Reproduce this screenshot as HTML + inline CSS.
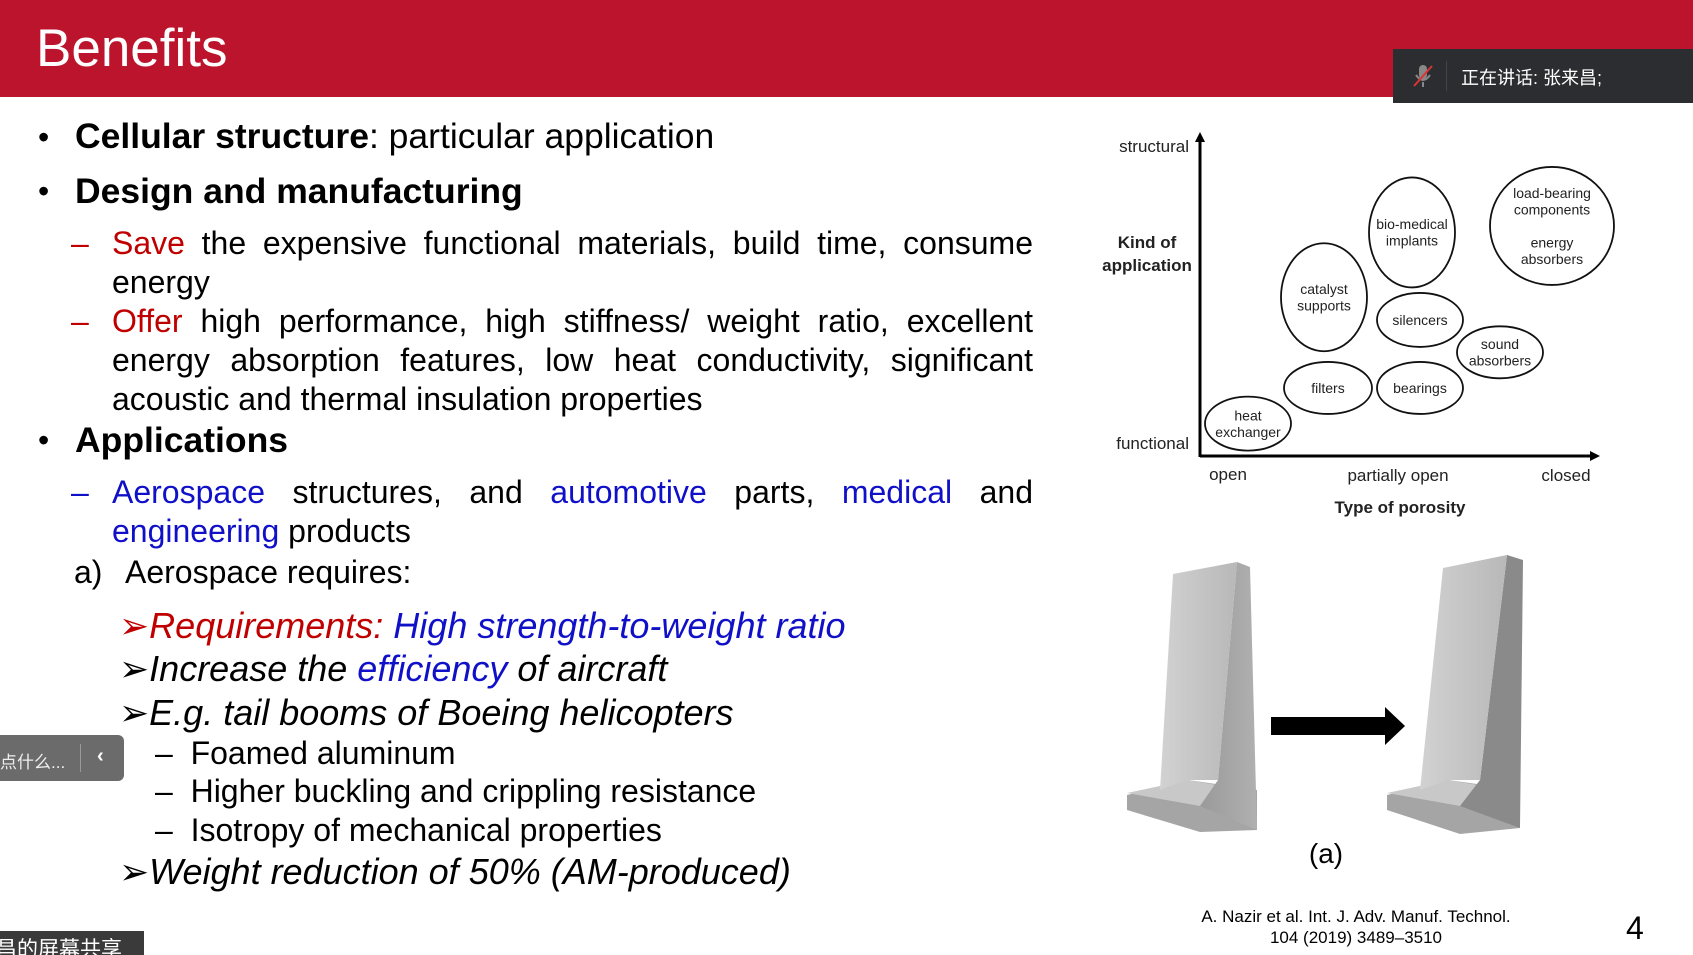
<!DOCTYPE html>
<html><head><meta charset="utf-8">
<style>
*{margin:0;padding:0;box-sizing:border-box}
body{width:1693px;height:955px;overflow:hidden;background:#fff;font-family:"Liberation Sans","Noto Sans CJK SC",sans-serif;position:relative;color:#000}
.abs{position:absolute;white-space:nowrap}
.t{font-size:32px;line-height:39px}
.red{color:#c00000}.blue{color:#1010c8}
.just{position:absolute;left:112px;width:921px;text-align:justify;text-align-last:justify;font-size:32px;line-height:39px}
.it{font-style:italic;font-size:36px}
</style></head><body>
<div style="position:absolute;left:0;top:0;width:1693px;height:97px;background:#bc142d"></div>
<div class="abs" style="left:36px;top:18px;font-size:53px;color:#fff">Benefits</div>
<div style="position:absolute;left:1393px;top:49px;width:300px;height:54px;background:#2b2d30">
 <svg style="position:absolute;left:18px;top:14px" width="24" height="26"><rect x="8" y="2" width="8" height="14" rx="4" fill="#888"/><path d="M5 12 Q12 22 19 12" stroke="#888" fill="none" stroke-width="2"/><line x1="12" y1="19" x2="12" y2="24" stroke="#888" stroke-width="2"/><line x1="3" y1="23" x2="21" y2="3" stroke="#d33" stroke-width="2"/></svg>
 <div style="position:absolute;left:53px;top:12px;width:1px;height:30px;background:#444"></div>
 <div class="abs" style="left:68px;top:15px;font-size:18px;color:#fff">正在讲话: 张来昌;</div>
</div>

<div class="abs t" style="left:38px;top:118px">•</div>
<div class="abs t" style="left:75px;top:117px;font-size:35.5px"><b>Cellular structure</b>: particular application</div>
<div class="abs t" style="left:38px;top:172px">•</div>
<div class="abs t" style="left:75px;top:172px;font-size:35.5px"><b>Design and manufacturing</b></div>
<div class="abs t red" style="left:71px;top:224px">–</div>
<div class="just" style="top:224px"><span class="red">Save</span> the expensive functional materials, build time, consume</div>
<div class="abs t" style="left:112px;top:263px">energy</div>
<div class="abs t red" style="left:71px;top:302px">–</div>
<div class="just" style="top:302px"><span class="red">Offer</span> high performance, high stiffness/ weight ratio, excellent</div>
<div class="just" style="top:341px">energy absorption features, low heat conductivity, significant</div>
<div class="abs t" style="left:112px;top:380px">acoustic and thermal insulation properties</div>
<div class="abs t" style="left:38px;top:421px">•</div>
<div class="abs t" style="left:75px;top:421px;font-size:35.5px"><b>Applications</b></div>
<div class="abs t blue" style="left:71px;top:473px">–</div>
<div class="just" style="top:473px"><span class="blue">Aerospace</span> structures, and <span class="blue">automotive</span> parts, <span class="blue">medical</span> and</div>
<div class="abs t" style="left:112px;top:512px"><span class="blue">engineering</span> products</div>
<div class="abs t" style="left:74px;top:553px">a)</div>
<div class="abs t" style="left:125px;top:553px">Aerospace requires:</div>
<div class="abs t it" style="left:119px;top:606px"><span class="red" style="font-style:normal">➢</span><span class="red">Requirements:</span> <span class="blue">High strength-to-weight ratio</span></div>
<div class="abs t it" style="left:119px;top:649px"><span style="font-style:normal">➢</span>Increase the <span class="blue">efficiency</span> of aircraft</div>
<div class="abs t it" style="left:119px;top:693px"><span style="font-style:normal">➢</span>E.g. tail booms of Boeing helicopters</div>
<div class="abs t" style="left:155px;top:734px">–&nbsp; Foamed aluminum</div>
<div class="abs t" style="left:155px;top:772px">–&nbsp; Higher buckling and crippling resistance</div>
<div class="abs t" style="left:155px;top:811px">–&nbsp; Isotropy of mechanical properties</div>
<div class="abs t it" style="left:119px;top:852px"><span style="font-style:normal">➢</span>Weight reduction of 50% (AM-produced)</div>

<div style="position:absolute;left:0;top:735px;width:124px;height:46px;background:#6b6b6b;border-radius:0 6px 6px 0">
 <div class="abs" style="left:0;top:13px;font-size:17px;color:#eee">点什么...</div>
 <div style="position:absolute;left:80px;top:9px;width:1px;height:28px;background:#999"></div>
 <div class="abs" style="left:97px;top:10px;font-size:20px;color:#fff;font-weight:bold">‹</div>
</div>
<div style="position:absolute;left:0;top:931px;width:144px;height:24px;background:#3a3a3a;overflow:hidden">
 <div class="abs" style="left:-4px;top:2px;font-size:21px;color:#fff">昌的屏幕共享</div>
</div>

<svg id="chart" style="position:absolute;left:0;top:0" width="1693" height="955"></svg>

<svg style="position:absolute;left:0;top:0" width="1693" height="955">
 <defs><linearGradient id="g1" x1="0" x2="1"><stop offset="0" stop-color="#d2d2d2"/><stop offset="1" stop-color="#b8b8b8"/></linearGradient>
 <linearGradient id="g2" x1="0" x2="1"><stop offset="0" stop-color="#9a9a9a"/><stop offset="1" stop-color="#b0b0b0"/></linearGradient></defs>
 <g>
  <polygon points="1127,795 1127,810 1200,832 1257,830 1257,790 1188,780" fill="#a5a5a5"/>
  <polygon points="1127,793 1188,780 1257,792 1200,806" fill="#c8c8c8"/>
  <polygon points="1237,562 1250,567 1257,830 1200,806 1218,780" fill="url(#g2)"/>
  <polygon points="1173,574 1237,562 1218,780 1188,780 1160,790" fill="url(#g1)"/>
 </g>
 <g><polygon points="1271,717 1385,717 1385,707 1405,726 1385,745 1385,735 1271,735" fill="#000"/></g>
 <g>
  <polygon points="1387,795 1387,810 1460,834 1520,828 1520,790 1448,780" fill="#a5a5a5"/>
  <polygon points="1387,793 1448,780 1520,792 1460,806" fill="#c8c8c8"/>
  <polygon points="1507,555 1523,560 1520,828 1460,806 1480,780" fill="#8a8a8a"/>
  <polygon points="1443,568 1507,555 1480,780 1448,780 1420,790" fill="url(#g1)"/>
 </g>
 <text x="1326" y="863" font-size="28" text-anchor="middle" font-family="Liberation Sans">(a)</text>
</svg>

<div class="abs" style="left:1156px;top:906px;width:400px;text-align:center;font-size:17px;line-height:21px">A. Nazir et al. Int. J. Adv. Manuf. Technol.<br>104 (2019) 3489–3510</div>
<div class="abs" style="left:1626px;top:910px;font-size:32px">4</div>

<script>
// porosity: 0=open .. 1=closed ; application: 0=functional .. 1=structural
const labels = [["heat","exchanger"],["filters"],["catalyst","supports"],["bio-medical","implants"],["silencers"],["bearings"],["sound","absorbers"],["load-bearing","components","","energy","absorbers"]];
const porosity = [0.12, 0.32, 0.31, 0.53, 0.55, 0.55, 0.75, 0.88];
const application = [0.10, 0.21, 0.49, 0.69, 0.42, 0.21, 0.32, 0.71];
const widths = [43, 44, 43, 43, 43, 43, 43, 62];
const heights = [27, 26, 54, 55, 27, 26, 26, 59];
const NS="http://www.w3.org/2000/svg";
const svg=document.getElementById('chart');
const X0=1200,X1=1600,Y0=456,Y1=132;
const xs=v=>X0+v*(X1-X0);
const ys=v=>Y0-v*(Y0-Y1);
function mk(t,a,txt){const e=document.createElementNS(NS,t);for(const k in a)e.setAttribute(k,a[k]);if(txt!==undefined)e.textContent=txt;svg.appendChild(e);return e;}
let e;
e=mk('line',{x1:X0,y1:Y0+1,x2:X0,y2:Y1+8,stroke:'#000','stroke-width':3});


e=mk('polygon',{points:`${X0-5},${Y1+10} ${X0+5},${Y1+10} ${X0},${Y1}`,fill:'#000'});


e=mk('line',{x1:X0,y1:Y0,x2:X1-8,y2:Y0,stroke:'#000','stroke-width':3});


e=mk('polygon',{points:`${X1-10},${Y0-5} ${X1-10},${Y0+5} ${X1},${Y0}`,fill:'#000'});


const F='font-family:"Liberation Sans",sans-serif;';
function txt(x,y,s,size,anchor,bold,name){const t=mk('text',{x:x,y:y,'font-size':size,'text-anchor':anchor,style:F+(bold?'font-weight:bold;':''),fill:'#222'},s);

}
txt(1189,152,'structural',17,'end',false,'y-tick-structural');
txt(1189,449,'functional',17,'end',false,'y-tick-functional');
txt(1147,248,'Kind of',17,'middle',true,'y-axis-title');
txt(1147,271,'application',17,'middle',true,'y-axis-title-2');
txt(1228,480,'open',17,'middle',false,'x-tick-open');
txt(1398,481,'partially open',17,'middle',false,'x-tick-partial');
txt(1566,481,'closed',17,'middle',false,'x-tick-closed');
txt(1400,513,'Type of porosity',17,'middle',true,'x-axis-title');
labels.forEach((lb,i)=>{
 const cx=xs(porosity[i]),cy=ys(application[i]);
 const el=mk('ellipse',{cx:cx,cy:cy,rx:widths[i],ry:heights[i],fill:'none',stroke:'#111','stroke-width':1.8});
 
 
 const n=lb.length,lh=16.5;
 lb.forEach((s,j)=>{if(!s)return;
  const t=mk('text',{x:cx,y:cy-(n-1)*lh/2+j*lh+5,'font-size':14,'text-anchor':'middle',style:F,fill:'#222'},s);
  
  });
});
</script>
</body></html>
